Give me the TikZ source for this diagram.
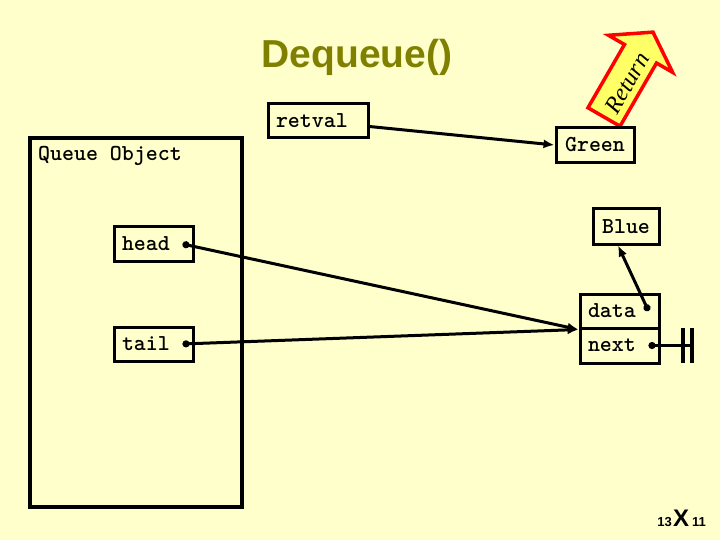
\documentclass[tikz,border=0pt]{standalone}
\usepackage{fontspec}
\setmainfont{Liberation Serif}
\newfontfamily\arialfont{Liberation Sans}
\usetikzlibrary{arrows.meta}
\definecolor{slidebg}{RGB}{255,255,204}
\definecolor{olivetitle}{RGB}{128,128,0}
\definecolor{retfill}{RGB}{255,255,102}
\newcommand{\monotext}{\ttfamily\bfseries\fontsize{22.8}{24}\selectfont}
\begin{document}
\begin{tikzpicture}[x=1pt, y=-1pt,
  field/.style={draw, line width=3pt, minimum height=34pt, inner xsep=8pt, inner ysep=0pt, align=left, font=\monotext},
  cell/.style={draw, line width=3pt, minimum height=35pt, inner sep=0pt, font=\monotext},
  ptr/.style={line width=3pt, {Circle[length=7pt]}-{Latex[length=11pt,width=9pt]}},
  arrow/.style={line width=3pt, -{Latex[length=11pt,width=9pt]}},
  small/.style={inner sep=0pt, font=\arialfont\bfseries\fontsize{13}{15}\selectfont}
]
  \fill[slidebg] (0,0) rectangle (720,540);
  \useasboundingbox (0,0) rectangle (720,540);

  % title
  \node[anchor=base, inner sep=0pt, text=olivetitle, font=\arialfont\bfseries\fontsize{39}{41}\selectfont] (title) at (357,68) {Dequeue()};

  % return arrow
  \begin{scope}[shift={(604,117)}, rotate=60]
    \draw[line width=3.5pt, draw=red, fill=retfill, line join=miter]
      (0,-18.5) -- (73,-18.5) -- (73,-37) -- (98,0) -- (73,37) -- (73,18.5) -- (0,18.5) -- cycle;
    \node[rotate=60, inner sep=0pt, font=\itshape\fontsize{24}{26}\selectfont] (rettext) at (41,3) {Return};
  \end{scope}

  % queue object
  \node[draw, line width=3.5pt, minimum width=212pt, minimum height=369pt] (queue) at (136,322.5) {};
  \node[anchor=base west, inner sep=0pt, font=\monotext] (qlabel) at (38,161) {Queue Object};
  \node[field, text width=63pt] (head) at (153.5,244) {head};
  \node[field, text width=63pt] (tail) at (153.5,344) {tail};

  % return value and list node
  \node[field, text width=84pt] (retval) at (318,120.5) {retval};
  \node[cell, minimum width=78pt] (green) at (595,145) {Green};
  \node[cell, minimum width=66pt] (blue) at (626,226.5) {Blue};
  \node[field, text width=63pt] (data) at (619.5,311) {data};
  \node[field, text width=63pt, minimum height=35pt] (next) at (619.5,345.5) {next};
  \coordinate (nil) at (692,345.5);

  \draw[arrow] ([yshift=-6pt]retval.east) -- (green.west);
  \draw[ptr] ([xshift=-12pt]head.east) -- (data.south west);
  \draw[ptr] ([xshift=-12pt]tail.east) -- (data.south west);
  \draw[ptr] ([xshift=-12pt]data.east) -- ([xshift=-8pt]blue.south);
  \draw[line width=3pt, {Circle[length=7pt]}-] ([xshift=-12pt]next.east) -- (nil);
  \draw[line width=4pt] ([yshift=-17.5pt]nil) -- ([yshift=17.5pt]nil);
  \draw[line width=4pt] ([xshift=-9pt,yshift=-17.5pt]nil) -- ([xshift=-9pt,yshift=17.5pt]nil);

  % slide number
  \node[small, anchor=base east] (pgl) at (672,526) {13};
  \node[anchor=base west, inner sep=0pt, font=\arialfont\bfseries\fontsize{24}{26}\selectfont] (pgx) at (673,526) {X};
  \node[small, anchor=base west] (pgr) at (692,526) {11};
\end{tikzpicture}
\end{document}
